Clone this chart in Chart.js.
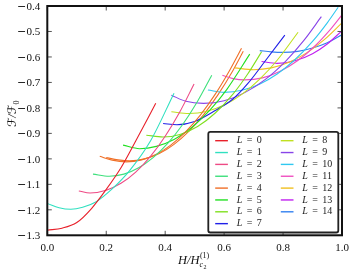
<!DOCTYPE html>
<html>
<head>
<meta charset="utf-8">
<script src="https://cdn.jsdelivr.net/npm/chart.js@4.4.0/dist/chart.umd.min.js"></script>
<style>
  html, body { margin: 0; padding: 0; background: #fff; }
</style>
</head>
<body>
<canvas id="free-energy" width="360" height="270"></canvas>
<script>
// H/Hc2 (field) and F/F0 (free energy) for each vorticity L
const h0 = [0, 0.05, 0.1, 0.15, 0.2, 0.25, 0.3, 0.368];
const f0 = [-1.28, -1.272, -1.25, -1.195, -1.12, -1.035, -0.93, -0.782];
const h1 = [0, 0.04, 0.08, 0.12, 0.166, 0.22, 0.28, 0.35, 0.43];
const f1 = [-1.175, -1.192, -1.198, -1.19, -1.168, -1.118, -1.045, -0.93, -0.742];
const h2 = [0.107, 0.145, 0.2, 0.25, 0.3, 0.35, 0.4, 0.45, 0.498];
const f2 = [-1.126, -1.134, -1.123, -1.096, -1.052, -0.99, -0.911, -0.815, -0.706];
const h3 = [0.155, 0.21, 0.26, 0.31, 0.36, 0.41, 0.46, 0.51, 0.558];
const f3 = [-1.06, -1.068, -1.06, -1.035, -0.994, -0.937, -0.864, -0.774, -0.672];
const h4 = [0.178, 0.22, 0.268, 0.32, 0.37, 0.42, 0.47, 0.52, 0.57, 0.62, 0.659];
const f4 = [-0.99, -1.005, -1.012, -1.004, -0.982, -0.945, -0.893, -0.827, -0.746, -0.65, -0.566];
// second (nearly coincident) L = 4 branch
const h4b = [0.2, 0.24, 0.28, 0.33, 0.38, 0.43, 0.48, 0.53, 0.58, 0.63, 0.665];
const f4b = [-0.995, -1.004, -1.008, -1.0, -0.979, -0.943, -0.892, -0.827, -0.747, -0.653, -0.578];
const h5 = [0.257, 0.313, 0.37, 0.43, 0.49, 0.55, 0.61, 0.687];
const f5 = [-0.946, -0.96, -0.951, -0.924, -0.877, -0.811, -0.726, -0.589];
const h6 = [0.336, 0.393, 0.45, 0.51, 0.57, 0.63, 0.68, 0.727];
const f6 = [-0.907, -0.914, -0.904, -0.873, -0.82, -0.746, -0.667, -0.58];
const h7 = [0.393, 0.44, 0.5, 0.57, 0.63, 0.68, 0.74, 0.806];
const f7 = [-0.861, -0.866, -0.853, -0.81, -0.765, -0.705, -0.615, -0.514];
const h8 = [0.421, 0.48, 0.54, 0.6, 0.66, 0.72, 0.78, 0.851];
const f8 = [-0.815, -0.822, -0.814, -0.789, -0.747, -0.688, -0.613, -0.503];
const h9 = [0.421, 0.47, 0.53, 0.6, 0.67, 0.74, 0.81, 0.87, 0.93];
const f9 = [-0.75, -0.774, -0.782, -0.772, -0.74, -0.688, -0.615, -0.536, -0.442];
const h10 = [0.545, 0.6, 0.66, 0.72, 0.78, 0.84, 0.9, 0.95, 0.987];
const f10 = [-0.73, -0.739, -0.731, -0.707, -0.667, -0.611, -0.539, -0.466, -0.405];
const h11 = [0.594, 0.63, 0.67, 0.73, 0.79, 0.85, 0.91, 0.96, 1.0];
const f11 = [-0.672, -0.685, -0.69, -0.682, -0.656, -0.614, -0.555, -0.493, -0.435];
const h12 = [0.636, 0.7, 0.76, 0.82, 0.88, 0.94, 1.0];
const f12 = [-0.643, -0.65, -0.643, -0.621, -0.584, -0.532, -0.466];
const h13 = [0.727, 0.78, 0.84, 0.9, 0.95, 1.0];
const f13 = [-0.618, -0.625, -0.615, -0.587, -0.549, -0.497];
const h14 = [0.721, 0.76, 0.8, 0.85, 0.9, 0.95, 1.0];
const f14 = [-0.575, -0.58, -0.582, -0.578, -0.565, -0.544, -0.513];

const vortexL = ['0', '1', '2', '3', '4', '5', '6', '7', '8', '9', '10', '11', '12', '13', '14'];
const xTicks = [0, 0.2, 0.4, 0.6, 0.8, 1.0];
const yTicks = [-1.3, -1.2, -1.1, -1.0, -0.9, -0.8, -0.7, -0.6, -0.5, -0.4];

const lineColors = [
    '#e8202a', '#30e0c0', '#ee4a85', '#3ee07c', '#f07028',
    '#22e022', '#80e020', '#2020e8', '#c0e020', '#8844e8',
    '#30c8f0', '#f050c0', '#f0c020', '#c020f0', '#3380f0'
];

const serif = '"Liberation Serif", "DejaVu Serif", "DejaVu Sans", serif';

const hs = [h0, h1, h2, h3, h4, h5, h6, h7, h8, h9, h10, h11, h12, h13, h14];
const fs = [f0, f1, f2, f3, f4, f5, f6, f7, f8, f9, f10, f11, f12, f13, f14];

function toPoints(h, f) {
    return h.map(function(v, j) { return { x: v, y: f[j] }; });
}

var datasets = hs.map(function(h, i) {
    return {
        label: 'L = ' + vortexL[i],
        data: toPoints(h, fs[i]),
        borderColor: lineColors[i],
        borderWidth: 1.1
    };
});
datasets.push({
    label: 'L = 4 (b)',
    data: toPoints(h4b, f4b),
    borderColor: lineColors[4],
    borderWidth: 1.1
});

// tick label: wide minus sign (math style) followed by the digits
function drawNumber(ctx, v, x, y, align) {
    var r = Math.round(v * 10) / 10;
    var digits = Math.abs(r).toFixed(1);
    ctx.font = '11px ' + serif;
    var wd = ctx.measureText(digits).width;
    var wm = r < 0 ? 9 : 0;
    var left = align === 'right' ? x - wd - wm : x - (wd + wm) / 2;
    if (r < 0) {
        ctx.font = '11px "DejaVu Sans"';
        ctx.fillText('\u2212', left - 0.5, y);
        ctx.font = '11px ' + serif;
    }
    ctx.fillText(digits, left + wm, y);
}

var decorations = {
    id: 'decorations',
    afterDatasetsDraw: function(chart) {
        var ctx = chart.ctx, a = chart.chartArea;
        var sx = chart.scales.x, sy = chart.scales.y;
        ctx.save();
        // inward ticks on all four sides
        ctx.strokeStyle = '#555';
        ctx.lineWidth = 1;
        ctx.beginPath();
        xTicks.forEach(function(v) {
            var px = sx.getPixelForValue(v);
            ctx.moveTo(px, a.bottom); ctx.lineTo(px, a.bottom - 4.5);
            ctx.moveTo(px, a.top); ctx.lineTo(px, a.top + 4.5);
        });
        yTicks.forEach(function(v) {
            var py = sy.getPixelForValue(v);
            ctx.moveTo(a.left, py); ctx.lineTo(a.left + 4.5, py);
            ctx.moveTo(a.right, py); ctx.lineTo(a.right - 4.5, py);
        });
        ctx.stroke();

        ctx.strokeStyle = '#111';
        ctx.lineWidth = 2;
        ctx.strokeRect(a.left, a.top, a.width, a.height);

        // tick labels
        ctx.fillStyle = '#111';
        ctx.textBaseline = 'alphabetic';
        ctx.textAlign = 'left';
        xTicks.forEach(function(v) {
            drawNumber(ctx, v, sx.getPixelForValue(v), a.bottom + 16, 'center');
        });
        yTicks.forEach(function(v) {
            drawNumber(ctx, v, a.left - 7, sy.getPixelForValue(v) + 3.8, 'right');
        });

        // legend
        var bx = a.right - 133.7, by = a.top + 125.9, bw = 130, bh = 100.6;
        ctx.beginPath();
        ctx.roundRect(bx, by, bw, bh, 2);
        ctx.fillStyle = '#fff';
        ctx.fill();
        ctx.strokeStyle = '#222';
        ctx.lineWidth = 1.8;
        ctx.stroke();

        ctx.textBaseline = 'middle';
        vortexL.forEach(function(lab, i) {
            var col = i < 8 ? 0 : 1;
            var row = i < 8 ? i : i - 8;
            var tx = bx + (col ? 94 : 28.4);
            var ty = by + 8.8 + row * 11.85;
            ctx.strokeStyle = lineColors[i];
            ctx.lineWidth = 1.4;
            ctx.beginPath();
            ctx.moveTo(tx - 21.5, ty);
            ctx.lineTo(tx - 8.8, ty);
            ctx.stroke();
            ctx.fillStyle = '#222';
            ctx.font = 'italic 10px ' + serif;
            ctx.fillText('L', tx, ty);
            ctx.font = '10px ' + serif;
            ctx.fillText('=', tx + 10, ty);
            ctx.fillText(lab, tx + 20, ty);
        });
        ctx.restore();
    },
    afterDraw: function(chart) {
        var ctx = chart.ctx, a = chart.chartArea;
        ctx.save();
        ctx.fillStyle = '#111';
        ctx.textAlign = 'left';
        ctx.textBaseline = 'alphabetic';

        // x title: H/H_{c2}^{(1)}
        ctx.font = 'italic 12.5px ' + serif;
        var wMain = ctx.measureText('H/H').width;
        var total = wMain + 10;
        var x0 = (a.left + a.right) / 2 - total / 2 - 1;
        var base = 264;
        ctx.fillText('H/H', x0, base);
        ctx.font = '8px ' + serif;
        ctx.fillText('(1)', x0 + wMain + 0.5, base - 6);
        ctx.font = 'italic 8px ' + serif;
        ctx.fillText('c', x0 + wMain + 0.2, base + 3);
        ctx.font = '6px ' + serif;
        ctx.fillText('2', x0 + wMain + 4, base + 5);

        // y title: F/F0 (calligraphic)
        ctx.translate(16, 114);
        ctx.rotate(-Math.PI / 2);
        ctx.font = 'italic 12px ' + serif;
        var m = ctx.measureText('\u2131/\u2131').width;
        ctx.font = '8px ' + serif;
        var s = ctx.measureText('0').width;
        var start = -(m + s) / 2;
        ctx.font = 'italic 12px ' + serif;
        ctx.fillText('\u2131/\u2131', start, 0);
        ctx.font = '8px ' + serif;
        ctx.fillText('0', start + m + 0.3, 3);
        ctx.restore();
    }
};

var energyChart = new Chart(document.getElementById('free-energy').getContext('2d'), {
    type: 'line',
    data: { datasets: datasets },
    options: {
        responsive: false,
        animation: false,
        layout: { padding: { top: 6, right: 18, bottom: 0, left: 0 } },
        elements: {
            point: { radius: 0 },
            line: { cubicInterpolationMode: 'monotone' }
        },
        plugins: {
            legend: { display: false },
            tooltip: { enabled: false }
        },
        scales: {
            x: {
                type: 'linear',
                min: 0,
                max: 1,
                grid: { display: false, drawTicks: false },
                border: { display: false },
                ticks: { display: false },
                afterFit: function(scale) { scale.height = 34.7; }
            },
            y: {
                type: 'linear',
                min: -1.3,
                max: -0.4,
                grid: { display: false, drawTicks: false },
                border: { display: false },
                ticks: { display: false },
                afterFit: function(scale) { scale.width = 47.3; }
            }
        }
    },
    plugins: [decorations]
});
</script>
</body>
</html>
